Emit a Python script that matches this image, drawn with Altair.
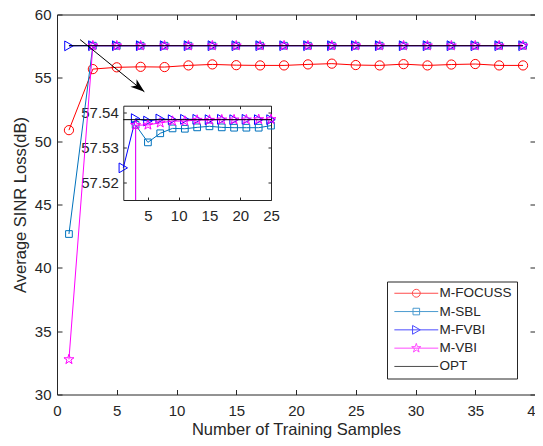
import altair as alt
import pandas as pd

# ---------------- data ----------------
samples = [1, 3, 5, 7, 9, 11, 13, 15, 17, 19, 21, 23, 25, 27, 29, 31, 33, 35, 37, 39]
m_focuss = [50.87, 55.69, 55.83, 55.87, 55.85, 55.98, 56.06, 56.00, 55.98, 55.98,
            56.06, 56.12, 56.01, 55.98, 56.08, 55.98, 56.05, 56.09, 55.98, 55.98]
m_sbl = [42.67, 57.5365, 57.5315, 57.5341, 57.5355, 57.5354, 57.5358, 57.5361, 57.5358, 57.5357,
         57.5357, 57.5357, 57.5363, 57.5360, 57.5358, 57.5361, 57.5359, 57.5360, 57.5358, 57.5360]
m_fvbi = [57.5242, 57.5383, 57.5376, 57.5382, 57.5380, 57.5381, 57.5381, 57.5380, 57.5381, 57.5380,
          57.5381, 57.5380, 57.5380, 57.5381, 57.5380, 57.5381, 57.5380, 57.5381, 57.5380, 57.5381]
m_vbi = [32.77, 57.5364, 57.5365, 57.5371, 57.5376, 57.5376, 57.5379, 57.5379, 57.5380, 57.5380,
         57.5380, 57.5381, 57.5381, 57.5381, 57.5381, 57.5381, 57.5381, 57.5381, 57.5381, 57.5381]
opt = [57.538, 57.538, 57.538, 57.538, 57.538, 57.538, 57.538, 57.538, 57.538, 57.538,
       57.538, 57.538, 57.538, 57.538, 57.538, 57.538, 57.538, 57.538, 57.538, 57.538]

names = ["M-FOCUSS", "M-SBL", "M-FVBI", "M-VBI", "OPT"]
colors = ["#FF0000", "#0072BD", "#0000FF", "#FF00FF", "#000000"]

x_ticks = [0, 5, 10, 15, 20, 25, 30, 35, 40]
y_ticks = [30, 35, 40, 45, 50, 55, 60]
inset_x_ticks = [5, 10, 15, 20, 25]
inset_y_ticks = [57.52, 57.53, 57.54]

# annotation arrow (start, tip) in main-axis data units
arrow_x = [1.93, 7.31]
arrow_y = [58.02, 53.90]

rows = []
for nm, vals in zip(names, [m_focuss, m_sbl, m_fvbi, m_vbi, opt]):
    for xv, yv in zip(samples, vals):
        rows.append({"series": nm, "x": xv, "y": yv})
df = pd.DataFrame(rows)

# first (steep) segment of curves that leave the inset through its bottom edge
seg_df = pd.DataFrame([
    {"series": "M-SBL", "x": samples[1], "y": m_sbl[1], "y0": m_sbl[0]},
    {"series": "M-VBI", "x": samples[1], "y": m_vbi[1], "y0": m_vbi[0]},
])
arrow_df = pd.DataFrame({"x": arrow_x, "y": arrow_y, "o": [0, 1]})

# ---------------- styles ----------------
W, H = 478, 380
TXT = "#262626"
FONT = "Liberation Sans"
COL = dict(zip(names, colors))

STAR = ("M 0 -1 L 0.2245 -0.309 L 0.951 -0.309 L 0.363 0.118 L 0.588 0.809 L 0 0.382 "
        "L -0.588 0.809 L -0.363 0.118 L -0.951 -0.309 L -0.2245 -0.309 Z")
ARROW = "M 0 0 L -2 -0.7 L -1.45 0 L -2 0.7 Z"
MARK = {"M-FOCUSS": ("circle", 85), "M-SBL": ("square", 45),
        "M-FVBI": ("triangle-right", 95), "M-VBI": (STAR, 110)}

LEG_LINE = "M -1 0 L 9 0 "
leg_paths = [
    LEG_LINE + "M 4.9 0 A 0.9 0.9 0 1 1 3.1 0 A 0.9 0.9 0 1 1 4.9 0",
    LEG_LINE + "M 3.25 -0.75 L 4.75 -0.75 L 4.75 0.75 L 3.25 0.75 Z",
    LEG_LINE + "M 3.15 -1 L 4.9 0 L 3.15 1 Z",
    LEG_LINE + ("M 4 -1.1 L 4.247 -0.34 L 5.046 -0.34 L 4.399 0.13 L 4.647 0.89 L 4 0.42 "
                "L 3.353 0.89 L 3.601 0.13 L 2.954 -0.34 L 3.753 -0.34 Z"),
    "M -1 0 L 9 0",
]


def ax(**kw):
    base = dict(grid=False, labelFont=FONT, labelFontSize=15, labelColor=TXT, tickColor=TXT,
                domainColor=TXT, titleFont=FONT, titleFontSize=16.5, titleColor=TXT,
                titleFontWeight="normal", labelFlush=False, tickWidth=1, domainWidth=1,
                labelOverlap=False)
    base.update(kw)
    return alt.Axis(**base)


# main axes
x_lab = ax(orient="bottom", values=x_ticks, format="d", tickSize=0, domain=False, labelPadding=9,
           title="Number of Training Samples", titlePadding=2.5)
x_in_b = ax(orient="top", offset=-H, values=x_ticks, labels=False, domain=False, tickSize=5, title=None)
x_in_t = ax(orient="bottom", offset=-H, values=x_ticks, labels=False, domain=False, tickSize=5, title=None)
y_lab = ax(orient="left", values=y_ticks, format="d", tickSize=0, domain=False, labelPadding=6,
           title="Average SINR Loss(dB)", titlePadding=6)
y_in_l = ax(orient="right", offset=-W, values=y_ticks, labels=False, domain=False, tickSize=5, title=None)
y_in_r = ax(orient="left", offset=-W, values=y_ticks, labels=False, domain=False, tickSize=5, title=None)

# inset placement (pixels inside the main plot area)
IX = [66.3, 214.0]
IY = [185.5, 91.2]
xi_lab = ax(orient="bottom", offset=IY[0] - H, values=inset_x_ticks, format="d", tickSize=0,
            domain=True, labelPadding=8, title=None)
xi_in_b = ax(orient="top", offset=-IY[0], values=inset_x_ticks, labels=False, domain=False,
             tickSize=3, title=None)
xi_in_t = ax(orient="bottom", offset=IY[1] - H, values=inset_x_ticks, labels=False, domain=True,
             tickSize=3, title=None)
yi_lab = ax(orient="left", offset=-IX[0], values=inset_y_ticks, format=".2f", tickSize=0,
            domain=True, labelPadding=5, title=None)
yi_in_l = ax(orient="right", offset=IX[0] - W, values=inset_y_ticks, labels=False, domain=False,
             tickSize=3, title=None)
yi_in_r = ax(orient="left", offset=-IX[1], values=inset_y_ticks, labels=False, domain=True,
             tickSize=3, title=None)

XM = alt.Scale(domain=[0, 40], nice=False, zero=False)
YM = alt.Scale(domain=[30, 60], nice=False, zero=False)
XI = alt.Scale(domain=[1, 25], range=IX, nice=False, zero=False)
YI = alt.Scale(domain=[57.515, 57.542], range=IY, nice=False, zero=False, clamp=True)


def enc(xs, ys, xa=None, ya=None):
    return dict(x=alt.X("x:Q", scale=xs, axis=xa), y=alt.Y("y:Q", scale=ys, axis=ya))


# ---------------- main plot ----------------
main_layers = []
axes_cycle = [(x_lab, y_lab), (x_in_b, y_in_l), (x_in_t, y_in_r)]
k = 0
for nm in names:
    base = alt.Chart(df).transform_filter(alt.datum.series == nm)
    xa, ya = axes_cycle[k] if k < 3 else (None, None)
    k += 1
    main_layers.append(base.mark_line(color=COL[nm], strokeWidth=1).encode(**enc(XM, YM, xa, ya)))
    if nm in MARK:
        shp, sz = MARK[nm]
        main_layers.append(base.mark_point(shape=shp, size=sz, filled=False, color=COL[nm],
                                           strokeWidth=1, opacity=1).encode(**enc(XM, YM)))

main_layers.append(alt.Chart(arrow_df).mark_line(color="black", strokeWidth=1)
                   .encode(order="o:Q", **enc(XM, YM)))
main_layers.append(alt.Chart(arrow_df).transform_filter(alt.datum.o == 1)
                   .mark_point(shape=ARROW, size=196, filled=True, color="black", angle=39, opacity=1)
                   .encode(**enc(XM, YM)))

legend = alt.Legend(orient="none", legendX=330, legendY=267, title=None, symbolSize=77,
                    symbolStrokeWidth=1, labelFont=FONT, labelFontSize=13.5, labelColor=TXT,
                    labelOffset=34, padding=5, rowPadding=3.3, strokeColor=TXT, fillColor="white",
                    cornerRadius=0, symbolFillColor="transparent")
main_layers.append(
    alt.Chart(df).transform_filter("false").mark_point(filled=False)
    .encode(color=alt.Color("series:N", scale=alt.Scale(domain=names, range=colors), legend=legend),
            shape=alt.Shape("series:N", scale=alt.Scale(domain=names, range=leg_paths), legend=legend),
            **enc(XM, YM))
)
main = alt.layer(*main_layers).resolve_axis(x="independent", y="independent")

# ---------------- inset ----------------
inset_layers = []
inset_axes = [(xi_lab, yi_lab), (xi_in_b, yi_in_l), (xi_in_t, yi_in_r)]
k = 0
for nm in ["M-SBL", "M-FVBI", "M-VBI", "OPT"]:
    lo = 3 if nm in ("M-SBL", "M-VBI") else 1
    base = alt.Chart(df).transform_filter(
        f"datum.series == '{nm}' && datum.x >= {lo} && datum.x <= 25")
    xa, ya = inset_axes[k] if k < 3 else (None, None)
    k += 1
    if nm in ("M-SBL", "M-VBI"):
        inset_layers.append(alt.Chart(seg_df).transform_filter(alt.datum.series == nm)
                            .mark_rule(color=COL[nm], strokeWidth=1)
                            .encode(x=alt.X("x:Q", scale=XI, axis=None),
                                    y=alt.Y("y:Q", scale=YI, axis=None), y2="y0:Q"))
    inset_layers.append(base.mark_line(color=COL[nm], strokeWidth=1).encode(**enc(XI, YI, xa, ya)))
    if nm in MARK:
        shp, sz = MARK[nm]
        inset_layers.append(base.mark_point(shape=shp, size=sz, filled=False, color=COL[nm],
                                            strokeWidth=1, opacity=1).encode(**enc(XI, YI)))
inset = alt.layer(*inset_layers).resolve_axis(x="independent", y="independent")

chart = (
    alt.layer(main, inset)
    .resolve_scale(x="independent", y="independent")
    .properties(width=W, height=H, autosize=alt.AutoSizeParams(type="none"),
                padding={"left": 49, "top": 6.5, "right": 0, "bottom": 43.5})
    .configure_view(stroke=TXT, strokeWidth=1)
)

chart.save("out.html", embed_options={"renderer": "svg", "actions": False})
